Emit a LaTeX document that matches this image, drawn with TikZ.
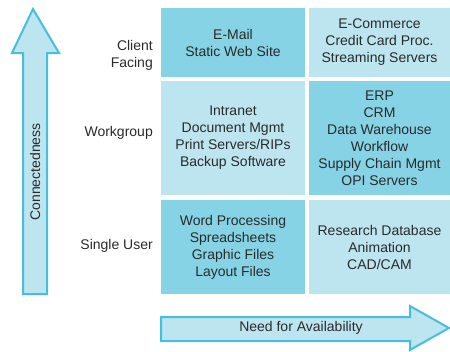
\documentclass[tikz,border=0pt]{standalone}
\usepackage{fontspec}
\setmainfont{Liberation Sans}
\usepackage{tikz}
\definecolor{celldark}{HTML}{86D3E6}
\definecolor{celllight}{HTML}{BDE5EF}
\definecolor{arrowline}{HTML}{45BFDB}
\definecolor{inkgray}{HTML}{2A2A2A}
\tikzstyle{cell}=[rectangle,inner sep=0pt,align=center,text=inkgray,
font=\fontsize{14}{17}\selectfont]
\tikzstyle{darkcell}=[cell,fill=celldark]
\tikzstyle{lightcell}=[cell,fill=celllight]
\tikzstyle{rowlabel}=[anchor=east,align=right,inner sep=0pt,text=inkgray,
font=\fontsize{14}{17}\selectfont]
\tikzstyle{bigarrow}=[draw=arrowline,fill=celllight,line width=2pt,line join=miter]

\begin{document}
\begin{tikzpicture}[x=1pt,y=-1pt]
            \useasboundingbox (0,0) rectangle (450,351);

            % AXIS ARROWS

            \draw[bigarrow] (23,294) -- (23,53) -- (12,53) -- (33,9) -- (59,53)
                -- (47,53) -- (47,294) -- cycle;
            \node[rotate=90,text=inkgray,font=\fontsize{14}{17}\selectfont] (conn) at (35,172) {Connectedness};

            \draw[bigarrow] (161,317) -- (410,317) -- (410,306) -- (449,328)
                -- (410,350) -- (410,341) -- (161,341) -- cycle;
            \node[text=inkgray,font=\fontsize{14}{17}\selectfont] (avail) at (301,328) {Need for Availability};

            % ROW LABELS

            \node[rowlabel] (client) at (153,55) {Client\\Facing};
            \node[rowlabel] (group) at (153,133) {Workgroup};
            \node[rowlabel] (single) at (153,246) {Single User};

            % CELLS

            \node[darkcell, minimum width=144pt,minimum height=69pt] (c11) at (233,42.5)
                {E-Mail\\Static Web Site};
            \node[lightcell,minimum width=141pt,minimum height=69pt] (c12) at (379.5,42.5)
                {E-Commerce\\Credit Card Proc.\\Streaming Servers};
            \node[lightcell,minimum width=144pt,minimum height=114pt] (c21) at (233,138)
                {Intranet\\Document Mgmt\\Print Servers/RIPs\\Backup Software};
            \node[darkcell, minimum width=141pt,minimum height=114pt] (c22) at (379.5,138)
                {ERP\\CRM\\Data Warehouse\\Workflow\\Supply Chain Mgmt\\OPI Servers};
            \node[darkcell, minimum width=144pt,minimum height=94pt] (c31) at (233,247)
                {Word Processing\\Spreadsheets\\Graphic Files\\Layout Files};
            \node[lightcell,minimum width=141pt,minimum height=94pt] (c32) at (379.5,247)
                {Research Database\\Animation\\CAD/CAM};

        \end{tikzpicture}
\end{document}
